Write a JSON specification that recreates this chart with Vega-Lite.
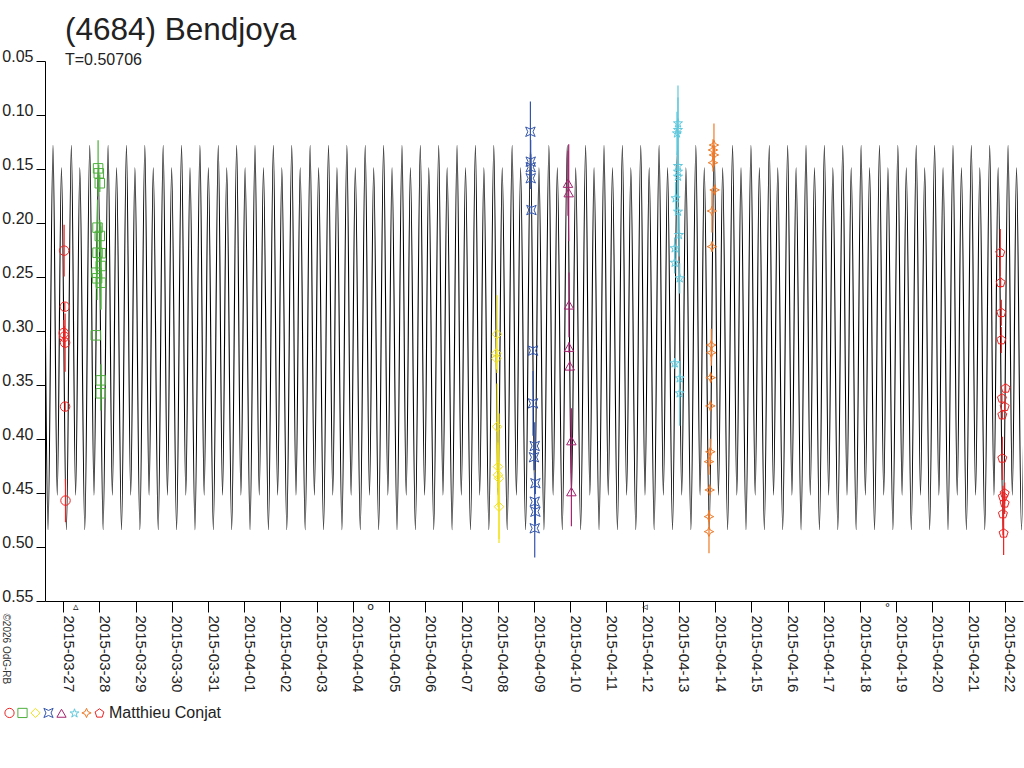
{
  "$schema": "https://vega.github.io/schema/vega-lite/v6.json",
  "autosize": "none",
  "padding": {"left": 45, "top": 61, "right": 1, "bottom": 167},
  "width": 978,
  "height": 540,
  "background": "white",
  "title": {
    "text": "(4684) Bendjoya",
    "subtitle": "T=0.50706",
    "anchor": "start",
    "frame": "group",
    "dx": 20,
    "offset": -20,
    "fontSize": 31.5,
    "fontWeight": "normal",
    "font": "Liberation Sans",
    "color": "#222",
    "subtitleFont": "Liberation Sans",
    "subtitleFontSize": 16,
    "subtitleColor": "#222",
    "subtitlePadding": 6
  },
  "datasets": {
    "curve": [
      {"d": -0.669, "m": 0.452}, {"d": -0.553, "m": 0.149},
      {"d": -0.416, "m": 0.484}, {"d": -0.279, "m": 0.128}, {"d": -0.162, "m": 0.452}, {"d": -0.046, "m": 0.149},
      {"d": 0.091, "m": 0.484}, {"d": 0.228, "m": 0.128}, {"d": 0.345, "m": 0.452}, {"d": 0.461, "m": 0.149},
      {"d": 0.598, "m": 0.484}, {"d": 0.735, "m": 0.128}, {"d": 0.852, "m": 0.452}, {"d": 0.968, "m": 0.149},
      {"d": 1.105, "m": 0.484}, {"d": 1.242, "m": 0.128}, {"d": 1.359, "m": 0.452}, {"d": 1.475, "m": 0.149},
      {"d": 1.612, "m": 0.484}, {"d": 1.749, "m": 0.128}, {"d": 1.866, "m": 0.452}, {"d": 1.982, "m": 0.149},
      {"d": 2.119, "m": 0.484}, {"d": 2.256, "m": 0.128}, {"d": 2.373, "m": 0.452}, {"d": 2.489, "m": 0.149},
      {"d": 2.626, "m": 0.484}, {"d": 2.763, "m": 0.128}, {"d": 2.880, "m": 0.452}, {"d": 2.996, "m": 0.149},
      {"d": 3.133, "m": 0.484}, {"d": 3.270, "m": 0.128}, {"d": 3.387, "m": 0.452}, {"d": 3.503, "m": 0.149},
      {"d": 3.640, "m": 0.484}, {"d": 3.777, "m": 0.128}, {"d": 3.894, "m": 0.452}, {"d": 4.010, "m": 0.149},
      {"d": 4.147, "m": 0.484}, {"d": 4.284, "m": 0.128}, {"d": 4.401, "m": 0.452}, {"d": 4.517, "m": 0.149},
      {"d": 4.654, "m": 0.484}, {"d": 4.791, "m": 0.128}, {"d": 4.908, "m": 0.452}, {"d": 5.024, "m": 0.149},
      {"d": 5.161, "m": 0.484}, {"d": 5.298, "m": 0.128}, {"d": 5.415, "m": 0.452}, {"d": 5.531, "m": 0.149},
      {"d": 5.668, "m": 0.484}, {"d": 5.805, "m": 0.128}, {"d": 5.922, "m": 0.452}, {"d": 6.038, "m": 0.149},
      {"d": 6.175, "m": 0.484}, {"d": 6.312, "m": 0.128}, {"d": 6.429, "m": 0.452}, {"d": 6.545, "m": 0.149},
      {"d": 6.683, "m": 0.484}, {"d": 6.820, "m": 0.128}, {"d": 6.937, "m": 0.452}, {"d": 7.053, "m": 0.149},
      {"d": 7.190, "m": 0.484}, {"d": 7.327, "m": 0.128}, {"d": 7.444, "m": 0.452}, {"d": 7.560, "m": 0.149},
      {"d": 7.697, "m": 0.484}, {"d": 7.834, "m": 0.128}, {"d": 7.951, "m": 0.452}, {"d": 8.067, "m": 0.149},
      {"d": 8.204, "m": 0.484}, {"d": 8.341, "m": 0.128}, {"d": 8.458, "m": 0.452}, {"d": 8.574, "m": 0.149},
      {"d": 8.711, "m": 0.484}, {"d": 8.848, "m": 0.128}, {"d": 8.965, "m": 0.452}, {"d": 9.081, "m": 0.149},
      {"d": 9.218, "m": 0.484}, {"d": 9.355, "m": 0.128}, {"d": 9.472, "m": 0.452}, {"d": 9.588, "m": 0.149},
      {"d": 9.725, "m": 0.484}, {"d": 9.862, "m": 0.128}, {"d": 9.979, "m": 0.452}, {"d": 10.095, "m": 0.149},
      {"d": 10.232, "m": 0.484}, {"d": 10.369, "m": 0.128}, {"d": 10.486, "m": 0.452}, {"d": 10.602, "m": 0.149},
      {"d": 10.739, "m": 0.484}, {"d": 10.876, "m": 0.128}, {"d": 10.993, "m": 0.452}, {"d": 11.109, "m": 0.149},
      {"d": 11.246, "m": 0.484}, {"d": 11.383, "m": 0.128}, {"d": 11.500, "m": 0.452}, {"d": 11.616, "m": 0.149},
      {"d": 11.753, "m": 0.484}, {"d": 11.890, "m": 0.128}, {"d": 12.007, "m": 0.452}, {"d": 12.123, "m": 0.149},
      {"d": 12.260, "m": 0.484}, {"d": 12.397, "m": 0.128}, {"d": 12.514, "m": 0.452}, {"d": 12.630, "m": 0.149},
      {"d": 12.767, "m": 0.484}, {"d": 12.904, "m": 0.128}, {"d": 13.021, "m": 0.452}, {"d": 13.137, "m": 0.149},
      {"d": 13.274, "m": 0.484}, {"d": 13.411, "m": 0.128}, {"d": 13.528, "m": 0.452}, {"d": 13.644, "m": 0.149},
      {"d": 13.781, "m": 0.484}, {"d": 13.918, "m": 0.128}, {"d": 14.035, "m": 0.452}, {"d": 14.151, "m": 0.149},
      {"d": 14.288, "m": 0.484}, {"d": 14.425, "m": 0.128}, {"d": 14.542, "m": 0.452}, {"d": 14.658, "m": 0.149},
      {"d": 14.796, "m": 0.484}, {"d": 14.933, "m": 0.128}, {"d": 15.050, "m": 0.452}, {"d": 15.166, "m": 0.149},
      {"d": 15.303, "m": 0.484}, {"d": 15.440, "m": 0.128}, {"d": 15.557, "m": 0.452}, {"d": 15.673, "m": 0.149},
      {"d": 15.810, "m": 0.484}, {"d": 15.947, "m": 0.128}, {"d": 16.064, "m": 0.452}, {"d": 16.180, "m": 0.149},
      {"d": 16.317, "m": 0.484}, {"d": 16.454, "m": 0.128}, {"d": 16.571, "m": 0.452}, {"d": 16.687, "m": 0.149},
      {"d": 16.824, "m": 0.484}, {"d": 16.961, "m": 0.128}, {"d": 17.078, "m": 0.452}, {"d": 17.194, "m": 0.149},
      {"d": 17.331, "m": 0.484}, {"d": 17.468, "m": 0.128}, {"d": 17.585, "m": 0.452}, {"d": 17.701, "m": 0.149},
      {"d": 17.838, "m": 0.484}, {"d": 17.975, "m": 0.128}, {"d": 18.092, "m": 0.452}, {"d": 18.208, "m": 0.149},
      {"d": 18.345, "m": 0.484}, {"d": 18.482, "m": 0.128}, {"d": 18.599, "m": 0.452}, {"d": 18.715, "m": 0.149},
      {"d": 18.852, "m": 0.484}, {"d": 18.989, "m": 0.128}, {"d": 19.106, "m": 0.452}, {"d": 19.222, "m": 0.149},
      {"d": 19.359, "m": 0.484}, {"d": 19.496, "m": 0.128}, {"d": 19.613, "m": 0.452}, {"d": 19.729, "m": 0.149},
      {"d": 19.866, "m": 0.484}, {"d": 20.003, "m": 0.128}, {"d": 20.120, "m": 0.452}, {"d": 20.236, "m": 0.149},
      {"d": 20.373, "m": 0.484}, {"d": 20.510, "m": 0.128}, {"d": 20.627, "m": 0.452}, {"d": 20.743, "m": 0.149},
      {"d": 20.880, "m": 0.484}, {"d": 21.017, "m": 0.128}, {"d": 21.134, "m": 0.452}, {"d": 21.250, "m": 0.149},
      {"d": 21.387, "m": 0.484}, {"d": 21.524, "m": 0.128}, {"d": 21.641, "m": 0.452}, {"d": 21.757, "m": 0.149},
      {"d": 21.894, "m": 0.484}, {"d": 22.031, "m": 0.128}, {"d": 22.148, "m": 0.452}, {"d": 22.264, "m": 0.149},
      {"d": 22.401, "m": 0.484}, {"d": 22.538, "m": 0.128}, {"d": 22.655, "m": 0.452}, {"d": 22.771, "m": 0.149},
      {"d": 22.908, "m": 0.484}, {"d": 23.045, "m": 0.128}, {"d": 23.162, "m": 0.452}, {"d": 23.278, "m": 0.149},
      {"d": 23.416, "m": 0.484}, {"d": 23.553, "m": 0.128}, {"d": 23.670, "m": 0.452}, {"d": 23.786, "m": 0.149},
      {"d": 23.923, "m": 0.484}, {"d": 24.060, "m": 0.128}, {"d": 24.177, "m": 0.452}, {"d": 24.293, "m": 0.149},
      {"d": 24.430, "m": 0.484}, {"d": 24.567, "m": 0.128}, {"d": 24.684, "m": 0.452}, {"d": 24.800, "m": 0.149},
      {"d": 24.937, "m": 0.484}, {"d": 25.074, "m": 0.128}, {"d": 25.191, "m": 0.452}, {"d": 25.307, "m": 0.149},
      {"d": 25.444, "m": 0.484}, {"d": 25.581, "m": 0.128}, {"d": 25.698, "m": 0.452}, {"d": 25.814, "m": 0.149},
      {"d": 25.951, "m": 0.484}, {"d": 26.088, "m": 0.128}, {"d": 26.205, "m": 0.452}, {"d": 26.321, "m": 0.149},
      {"d": 26.458, "m": 0.484}, {"d": 26.595, "m": 0.128}
    ],
    "obs": [
      {"s": "s1", "d": 0.028, "m": 0.2256, "e": 0.024},
      {"s": "s1", "d": 0.047, "m": 0.2775, "e": 0.004},
      {"s": "s1", "d": 0.019, "m": 0.3019, "e": 0.012},
      {"s": "s1", "d": 0.033, "m": 0.3053, "e": 0.01},
      {"s": "s1", "d": 0.055, "m": 0.3108, "e": 0.027},
      {"s": "s1", "d": 0.055, "m": 0.3700, "e": 0.004},
      {"s": "s1", "d": 0.066, "m": 0.4570, "e": 0.02},
      {"s": "s2", "d": 0.966, "m": 0.1494, "e": 0.026},
      {"s": "s2", "d": 0.985, "m": 0.1540, "e": 0.008},
      {"s": "s2", "d": 1.013, "m": 0.1632, "e": 0.008},
      {"s": "s2", "d": 0.950, "m": 0.2043, "e": 0.026},
      {"s": "s2", "d": 1.013, "m": 0.2120, "e": 0.015},
      {"s": "s2", "d": 0.950, "m": 0.2275, "e": 0.02},
      {"s": "s2", "d": 1.041, "m": 0.2280, "e": 0.025},
      {"s": "s2", "d": 1.041, "m": 0.2398, "e": 0.04},
      {"s": "s2", "d": 0.922, "m": 0.2460, "e": 0.015},
      {"s": "s2", "d": 0.938, "m": 0.2512, "e": 0.02},
      {"s": "s2", "d": 1.041, "m": 0.2553, "e": 0.025},
      {"s": "s2", "d": 0.903, "m": 0.3040, "e": 0.003},
      {"s": "s2", "d": 1.041, "m": 0.3457, "e": 0.015},
      {"s": "s2", "d": 1.041, "m": 0.3577, "e": 0.016},
      {"s": "s3", "d": 11.979, "m": 0.3030, "e": 0.036},
      {"s": "s3", "d": 11.962, "m": 0.3206, "e": 0.015},
      {"s": "s3", "d": 11.962, "m": 0.3253, "e": 0.01},
      {"s": "s3", "d": 11.979, "m": 0.3886, "e": 0.04},
      {"s": "s3", "d": 12.006, "m": 0.4256, "e": 0.02},
      {"s": "s3", "d": 12.006, "m": 0.4333, "e": 0.03},
      {"s": "s3", "d": 12.034, "m": 0.4364, "e": 0.06},
      {"s": "s3", "d": 12.034, "m": 0.4627, "e": 0.03},
      {"s": "s4", "d": 12.901, "m": 0.1155, "e": 0.028},
      {"s": "s4", "d": 12.909, "m": 0.1432, "e": 0.02},
      {"s": "s4", "d": 12.909, "m": 0.1484, "e": 0.012},
      {"s": "s4", "d": 12.909, "m": 0.1586, "e": 0.01},
      {"s": "s4", "d": 12.929, "m": 0.1880, "e": 0.004},
      {"s": "s4", "d": 12.973, "m": 0.3182, "e": 0.004},
      {"s": "s4", "d": 12.973, "m": 0.3670, "e": 0.03},
      {"s": "s4", "d": 13.020, "m": 0.4065, "e": 0.022},
      {"s": "s4", "d": 13.000, "m": 0.4169, "e": 0.012},
      {"s": "s4", "d": 13.039, "m": 0.4410, "e": 0.01},
      {"s": "s4", "d": 13.020, "m": 0.4580, "e": 0.02},
      {"s": "s4", "d": 13.039, "m": 0.4673, "e": 0.012},
      {"s": "s4", "d": 13.020, "m": 0.4827, "e": 0.027},
      {"s": "s5", "d": 13.939, "m": 0.1632, "e": 0.03},
      {"s": "s5", "d": 13.958, "m": 0.1720, "e": 0.045},
      {"s": "s5", "d": 13.966, "m": 0.2759, "e": 0.03},
      {"s": "s5", "d": 13.966, "m": 0.3151, "e": 0.005},
      {"s": "s5", "d": 13.986, "m": 0.3324, "e": 0.005},
      {"s": "s5", "d": 14.032, "m": 0.4016, "e": 0.03},
      {"s": "s5", "d": 14.032, "m": 0.4488, "e": 0.032},
      {"s": "s6", "d": 16.975, "m": 0.1077, "e": 0.035},
      {"s": "s6", "d": 16.975, "m": 0.1139, "e": 0.03},
      {"s": "s6", "d": 16.947, "m": 0.1170, "e": 0.02},
      {"s": "s6", "d": 16.975, "m": 0.1472, "e": 0.03},
      {"s": "s6", "d": 16.975, "m": 0.1525, "e": 0.02},
      {"s": "s6", "d": 16.975, "m": 0.1571, "e": 0.02},
      {"s": "s6", "d": 16.911, "m": 0.1771, "e": 0.015},
      {"s": "s6", "d": 16.975, "m": 0.1895, "e": 0.02},
      {"s": "s6", "d": 17.002, "m": 0.2111, "e": 0.02},
      {"s": "s6", "d": 16.884, "m": 0.2234, "e": 0.01},
      {"s": "s6", "d": 16.884, "m": 0.2368, "e": 0.01},
      {"s": "s6", "d": 17.022, "m": 0.2512, "e": 0.014},
      {"s": "s6", "d": 16.884, "m": 0.3299, "e": 0.005},
      {"s": "s6", "d": 17.022, "m": 0.3438, "e": 0.005},
      {"s": "s6", "d": 17.022, "m": 0.3577, "e": 0.03},
      {"s": "s7", "d": 17.968, "m": 0.1278, "e": 0.02},
      {"s": "s7", "d": 17.941, "m": 0.1324, "e": 0.01},
      {"s": "s7", "d": 17.968, "m": 0.1370, "e": 0.008},
      {"s": "s7", "d": 17.941, "m": 0.1442, "e": 0.008},
      {"s": "s7", "d": 17.987, "m": 0.1694, "e": 0.005},
      {"s": "s7", "d": 17.913, "m": 0.1889, "e": 0.02},
      {"s": "s7", "d": 17.913, "m": 0.2219, "e": 0.005},
      {"s": "s7", "d": 17.896, "m": 0.3130, "e": 0.015},
      {"s": "s7", "d": 17.896, "m": 0.3201, "e": 0.012},
      {"s": "s7", "d": 17.877, "m": 0.3432, "e": 0.005},
      {"s": "s7", "d": 17.869, "m": 0.3694, "e": 0.005},
      {"s": "s7", "d": 17.869, "m": 0.4118, "e": 0.012},
      {"s": "s7", "d": 17.831, "m": 0.4210, "e": 0.012},
      {"s": "s7", "d": 17.850, "m": 0.4472, "e": 0.005},
      {"s": "s7", "d": 17.831, "m": 0.4719, "e": 0.005},
      {"s": "s7", "d": 17.831, "m": 0.4858, "e": 0.02},
      {"s": "s8", "d": 25.873, "m": 0.2275, "e": 0.022},
      {"s": "s8", "d": 25.882, "m": 0.2553, "e": 0.005},
      {"s": "s8", "d": 25.901, "m": 0.2831, "e": 0.012},
      {"s": "s8", "d": 25.901, "m": 0.3083, "e": 0.012},
      {"s": "s8", "d": 26.020, "m": 0.3531, "e": 0.004},
      {"s": "s8", "d": 25.918, "m": 0.3623, "e": 0.004},
      {"s": "s8", "d": 25.993, "m": 0.3701, "e": 0.004},
      {"s": "s8", "d": 25.929, "m": 0.3778, "e": 0.004},
      {"s": "s8", "d": 25.929, "m": 0.4179, "e": 0.02},
      {"s": "s8", "d": 25.993, "m": 0.4503, "e": 0.01},
      {"s": "s8", "d": 25.945, "m": 0.4534, "e": 0.01},
      {"s": "s8", "d": 25.993, "m": 0.4595, "e": 0.01},
      {"s": "s8", "d": 25.945, "m": 0.4694, "e": 0.02},
      {"s": "s8", "d": 25.965, "m": 0.4873, "e": 0.02}
    ],
    "moon": [
      {"d": 0.35, "g": "▵", "m": 0.5555},
      {"d": 8.49, "g": "o", "m": 0.5555},
      {"d": 16.06, "g": "◃", "m": 0.5555},
      {"d": 22.76, "g": "°", "m": 0.5565}
    ]
  },
  "encoding": {
    "x": {
      "field": "d",
      "type": "quantitative",
      "scale": {"domain": [-0.5, 26.5], "nice": false, "zero": false},
      "axis": {
        "title": null,
        "values": [0, 1, 2, 3, 4, 5, 6, 7, 8, 9, 10, 11, 12, 13, 14, 15, 16, 17, 18, 19, 20, 21, 22, 23, 24, 25, 26],
        "labelExpr": "timeFormat(datetime(2015, 2, 27 + datum.value), '%Y-%m-%d')",
        "labelAngle": 90,
        "labelAlign": "left",
        "labelBaseline": "alphabetic",
        "labelFontSize": 15,
        "labelPadding": 3,
        "tickSize": 11,
        "labelOverlap": false,
        "labelBound": false,
        "labelFlush": false
      }
    },
    "y": {
      "field": "m",
      "type": "quantitative",
      "scale": {"domain": [0.05, 0.55], "reverse": true, "nice": false, "zero": false},
      "axis": {
        "title": "©2026 OdG-RB",
        "titleAngle": 90,
        "titleX": -40,
        "titleY": 552,
        "titleAlign": "left",
        "titleBaseline": "middle",
        "titleFontSize": 10,
        "titleFontWeight": "normal",
        "titleColor": "#333",
        "values": [0.05, 0.1, 0.15, 0.2, 0.25, 0.3, 0.35, 0.4, 0.45, 0.5, 0.55],
        "format": ".2f",
        "labelAlign": "right",
        "labelBaseline": "alphabetic",
        "labelFontSize": 16,
        "labelPadding": 3,
        "tickSize": 9,
        "labelOverlap": false,
        "labelBound": false,
        "labelFlush": false
      }
    }
  },
  "layer": [
    {
      "data": {"name": "curve"},
      "mark": {"type": "line", "interpolate": "monotone", "color": "#000", "strokeWidth": 1.1, "clip": true}
    },
    {
      "data": {"name": "obs"},
      "mark": {"type": "errorbar", "ticks": false, "thickness": 1.2},
      "encoding": {
        "yError": {"field": "e"},
        "color": {"field": "s", "type": "nominal"}
      }
    },
    {
      "data": {"name": "obs"},
      "mark": {"type": "point", "filled": false, "size": 90, "strokeWidth": 1, "opacity": 1},
      "encoding": {
        "color": {
          "field": "s",
          "type": "nominal",
          "scale": {
            "domain": ["s1", "s2", "s3", "s4", "s5", "s6", "s7", "s8"],
            "range": ["#ee2222", "#4caf3c", "#f2e21a", "#3355aa", "#a3236f", "#5fc8dc", "#f07a28", "#ee2222"]
          },
          "legend": {
            "title": "Matthieu Conjat",
            "labelExpr": "''",
            "orient": "none",
            "legendX": -41,
            "legendY": 646,
            "direction": "horizontal"
          }
        },
        "shape": {
          "field": "s",
          "type": "nominal",
          "scale": {
            "domain": ["s1", "s2", "s3", "s4", "s5", "s6", "s7", "s8"],
            "range": [
              "circle",
              "square",
              "diamond",
              "M-1,-1L0,-0.55L1,-1L0.55,0L1,1L0,0.55L-1,1L-0.55,0Z",
              "triangle-up",
              "M0,-1L0.22,-0.31L0.95,-0.31L0.36,0.12L0.59,0.81L0,0.38L-0.59,0.81L-0.36,0.12L-0.95,-0.31L-0.22,-0.31Z",
              "M0,-1L0.3,-0.3L1,0L0.3,0.3L0,1L-0.3,0.3L-1,0L-0.3,-0.3Z",
              "M0,-1L0.951,-0.309L0.588,0.809L-0.588,0.809L-0.951,-0.309Z"
            ]
          },
          "legend": {
            "title": "Matthieu Conjat",
            "labelExpr": "''",
            "orient": "none",
            "legendX": -41,
            "legendY": 646,
            "direction": "horizontal"
          }
        }
      }
    },
    {
      "data": {"name": "moon"},
      "mark": {"type": "text", "font": "DejaVu Sans", "fontSize": 11, "color": "#111", "baseline": "middle", "align": "center"},
      "encoding": {
        "text": {"field": "g", "type": "nominal"}
      }
    }
  ],
  "config": {
    "font": "Liberation Sans",
    "view": {"stroke": null},
    "axis": {"grid": false, "domainColor": "#000", "tickColor": "#000", "labelColor": "#222", "labelFont": "Liberation Sans"},
    "legend": {
      "labelOffset": 0,
      "labelLimit": 1,
      "columnPadding": -5,
      "padding": 0,
      "symbolSize": 85,
      "symbolStrokeWidth": 1,
      "titleOrient": "right",
      "titleFontSize": 16,
      "titleFontWeight": "normal",
      "titleColor": "#222",
      "titlePadding": 3,
      "titleBaseline": "middle",
      "labelFont": "Liberation Sans",
      "titleFont": "Liberation Sans"
    }
  }
}
